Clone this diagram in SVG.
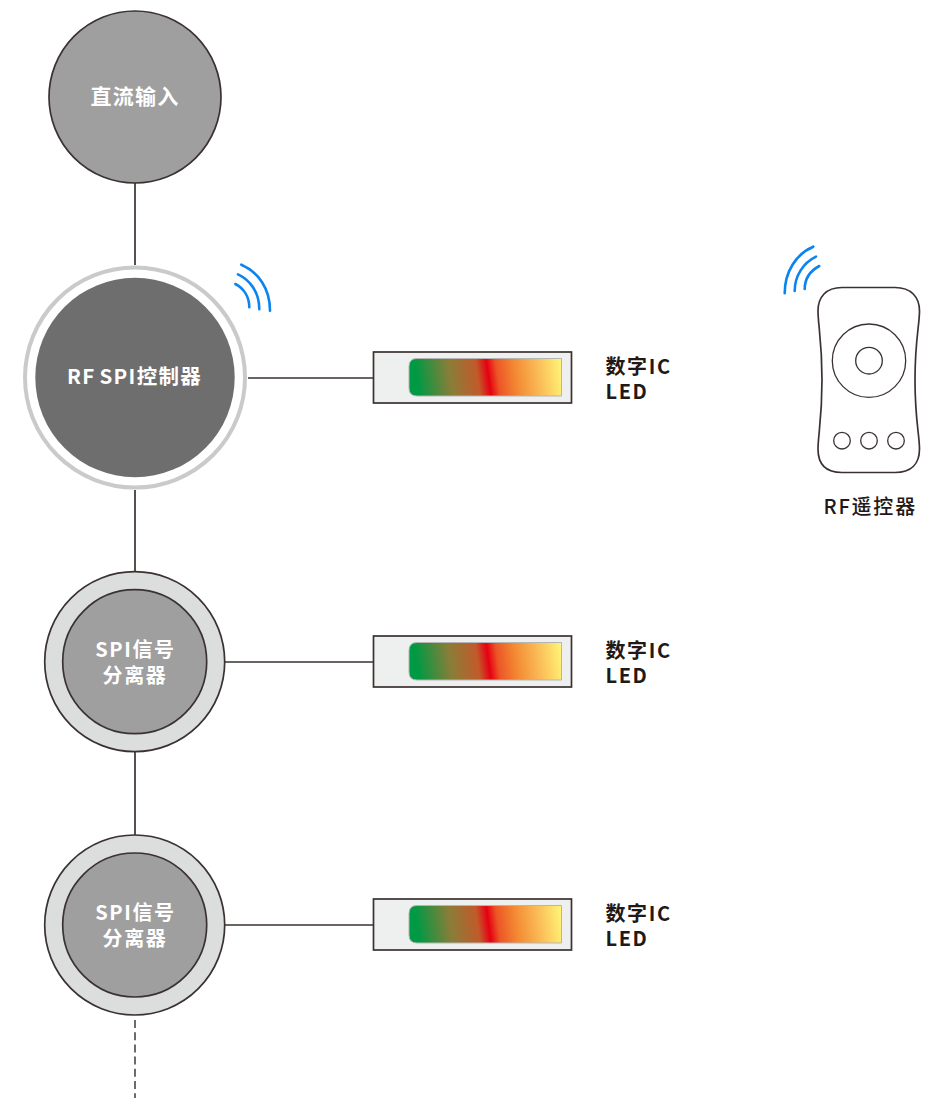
<svg xmlns="http://www.w3.org/2000/svg" width="927" height="1098" viewBox="0 0 927 1098">
<style>
text{font-family:"Noto Sans CJK SC","Noto Sans",sans-serif;font-weight:700;font-size:20px;letter-spacing:1.6px}
.w{fill:#fff;text-anchor:middle}
.d{fill:#231815}
.ln{stroke:#3a3230;stroke-width:1.7;fill:none}
.thin{stroke:#3a3230;stroke-width:1.3;fill:none}
.c{stroke:#3a3230;stroke-width:1.7}
.wifi{fill:none;stroke:#0a84f0;stroke-width:2.6;stroke-linecap:round}
.led{fill:#eeefef;stroke:#3a3230;stroke-width:1.7}
.bar{fill:url(#g);stroke:#b5b5b5;stroke-width:1}
</style>
<defs>
<linearGradient id="g" gradientUnits="userSpaceOnUse" x1="0" y1="18.750" x2="150.300" y2="-1.550">
<stop offset="0.05" stop-color="#009944"/>
<stop offset="0.27" stop-color="#8a7d38"/>
<stop offset="0.45" stop-color="#c25a2a"/>
<stop offset="0.52" stop-color="#e60012"/>
<stop offset="0.58" stop-color="#ec5526"/>
<stop offset="0.70" stop-color="#f38a33"/>
<stop offset="0.87" stop-color="#fbc35b"/>
<stop offset="1" stop-color="#fff275"/>
</linearGradient>
<path id="barshape" class="bar" d="M8 0H152.500V37.500H8Q0 37.500 0 29.500V8Q0 0 8 0Z"/>
</defs>
<g id="connectors">
<path class="ln" d="M135 183V265M135 490V572M135 752V835M248 378H374M225 662H374M225 925H374"/>
<path d="M135 1020V1098" fill="none" stroke="#6f6a68" stroke-width="2" stroke-dasharray="8 4.200"/>
</g>
<g id="dc-input"><circle class="c" cx="135" cy="97" r="86" fill="#9f9f9f"/><text class="w" x="135" y="104" style="font-size:21px;letter-spacing:1.200px">直流输入</text></g>
<g id="rf-controller"><circle cx="135" cy="377.500" r="110" fill="#fff" stroke="#c9caca" stroke-width="4"/><circle cx="135" cy="377.500" r="99.700" fill="#6e6e6e"/><text class="w" x="134.500" y="384" style="font-size:20.500px;letter-spacing:1.300px;word-spacing:-2px">RF SPI控制器</text>
<path class="wifi" d="M241.300 264.700C258 272 270 288 270 310.700M238 274.300C250 280 259.300 292 259.300 309.300M235.300 284C243 288 249.300 296 249.300 307.300"/></g>
<g id="splitter-1"><circle class="c" cx="134.700" cy="661.700" r="90" fill="#dcdddd"/><circle class="c" cx="134.700" cy="661.700" r="72" fill="#9f9f9f"/><text class="w"><tspan x="135.500" y="657">SPI信号</tspan><tspan x="135" y="683">分离器</tspan></text></g>
<g id="splitter-2"><circle class="c" cx="134.700" cy="925" r="90" fill="#dcdddd"/><circle class="c" cx="134.700" cy="925" r="72" fill="#9f9f9f"/><text class="w"><tspan x="135.500" y="920">SPI信号</tspan><tspan x="135" y="946">分离器</tspan></text></g>
<g id="led-1"><rect class="led" x="373.500" y="352" width="198" height="51"/><use href="#barshape" x="409" y="358.500"/><text class="d"><tspan x="605.500" y="374">数字IC</tspan><tspan x="605.500" y="399">LED</tspan></text></g>
<g id="led-2"><rect class="led" x="373.500" y="636" width="198" height="51"/><use href="#barshape" x="409" y="642.500"/><text class="d"><tspan x="605.500" y="658">数字IC</tspan><tspan x="605.500" y="683">LED</tspan></text></g>
<g id="led-3"><rect class="led" x="373.500" y="899" width="198" height="51"/><use href="#barshape" x="409" y="905.500"/><text class="d"><tspan x="605.500" y="921">数字IC</tspan><tspan x="605.500" y="946">LED</tspan></text></g>
<g id="remote">
<path class="wifi" d="M813.300 246.700C796 254 784.700 272 784.700 293.300M816 256.700C803 263 794.700 276 794.700 291M819.300 266C810 271 804.700 279 804.700 289"/>
<path class="c" fill="#fff" d="M842 287.500H895C911 287.500 919.500 297 919.500 311C919.500 325 915 340 915 380C915 420 919.500 435 919.500 449C919.500 464 911 472.500 895 472.500H842C826 472.500 818 464 818 449C818 435 822 420 822 380C822 340 818 325 818 311C818 297 826 287.500 842 287.500Z"/>
<circle class="thin" cx="869" cy="360.700" r="36.700"/><circle class="thin" cx="869" cy="360.700" r="13.300"/>
<circle class="thin" cx="842" cy="440.700" r="8.300"/><circle class="thin" cx="869" cy="440.700" r="8.300"/><circle class="thin" cx="896" cy="440.700" r="8.300"/>
<text class="d" x="823.500" y="514" style="font-weight:500;letter-spacing:1.800px">RF遥控器</text>
</g>
</svg>
